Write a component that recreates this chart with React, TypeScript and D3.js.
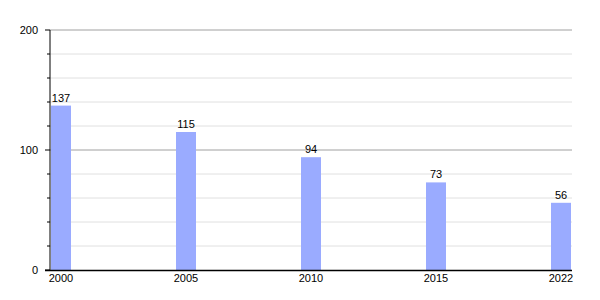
import React from "react";
import * as d3 from "d3";

const categories = ["2000", "2005", "2010", "2015", "2022"];
const values = [137, 115, 94, 73, 56];
const majorTicks = [0, 100, 200];
const minorTicks = [20, 40, 60, 80, 120, 140, 160, 180];

export default function App() {
  const W = 600, H = 300;
  const left = 50, right = 572, top = 30, bottom = 270;
  const barW = 20;
  const x = d3.scalePoint<string>().domain(categories).range([left + 1 + barW / 2, right - 1 - barW / 2]);
  const y = d3.scaleLinear().domain([0, 200]).range([bottom, top]);
  const font = "'Liberation Sans', Arial, sans-serif";
  return (
    <svg width={W} height={H} style={{ position: "absolute", left: 0, top: 0 }} fontFamily={font}>
      <rect width={W} height={H} fill="#fff" />
      {minorTicks.map((t) => (
        <g key={"m" + t}>
          <line x1={left} x2={right} y1={y(t)} y2={y(t)} stroke="#e0e0e0" strokeWidth={1} />
          <line x1={left - 3} x2={left} y1={y(t)} y2={y(t)} stroke="#000" strokeWidth={1} />
        </g>
      ))}
      {majorTicks.filter((t) => t > 0).map((t) => (
        <line key={"g" + t} x1={left} x2={right} y1={y(t)} y2={y(t)} stroke="#a0a0a0" strokeWidth={1} />
      ))}
      {majorTicks.map((t) => (
        <g key={"t" + t}>
          <line x1={left - 5} x2={left} y1={y(t)} y2={y(t)} stroke="#000" strokeWidth={1} />
          <text x={left - 12} y={y(t)} dy="0.35em" textAnchor="end" fontSize={11} fill="#000">{t}</text>
        </g>
      ))}
      {categories.map((c, i) => {
        const cx = x(c)!;
        return (
          <g key={c}>
            <rect x={cx - barW / 2} y={y(values[i])} width={barW} height={bottom - y(values[i])} fill="#9aabff" />
            <text x={cx} y={y(values[i]) - 4} textAnchor="middle" fontSize={11} fill="#000">{values[i]}</text>
            <text x={cx} y={bottom + 12} textAnchor="middle" fontSize={11} fill="#000">{c}</text>
          </g>
        );
      })}
      <line x1={left} x2={left} y1={top} y2={bottom} stroke="#000" strokeWidth={1} />
      <line x1={left - 5} x2={right} y1={bottom + 0.5} y2={bottom + 0.5} stroke="#000" strokeWidth={1.5} />
    </svg>
  );
}
